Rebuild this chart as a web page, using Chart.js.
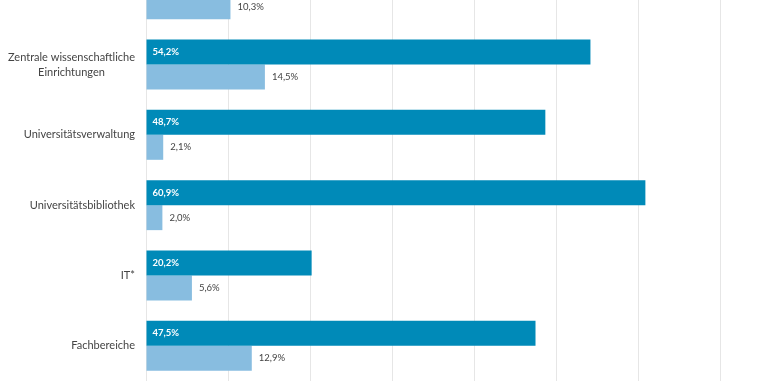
<!DOCTYPE html>
<html>
<head>
<meta charset="utf-8">
<script src="https://cdn.jsdelivr.net/npm/chart.js@4"></script>
<style>
html,body{margin:0;padding:0;background:#fff;overflow:hidden;}
#wrap{position:absolute;left:0;top:-41px;width:761px;height:422px;}
</style>
</head>
<body>
<div id="wrap"><canvas id="c"></canvas></div>
<script>
const categories = ["", ["Zentrale wissenschaftliche", "Einrichtungen"], "Universitätsverwaltung", "Universitätsbibliothek", "IT*", "Fachbereiche"];
const seriesDark = [null, 54.2, 48.7, 60.9, 20.2, 47.5];
const seriesLight = [10.3, 14.5, 2.1, 2.0, 5.6, 12.9];
const xTicks = [0, 10, 20, 30, 40, 50, 60, 70];

const FONT = "Lato, 'Open Sans', sans-serif";
const fmt = v => v.toFixed(1).replace('.', ',') + '%';

const labelPlugin = {
  id: 'labels',
  afterDatasetsDraw(chart) {
    const ctx = chart.ctx;
    const yScale = chart.scales.y;
    ctx.save();
    // category labels
    ctx.font = "11px " + FONT;
    ctx.fillStyle = "#444444";
    ctx.textBaseline = "middle";
    ctx.textAlign = "center";
    const right = chart.chartArea.left - 11;
    categories.forEach((lab, i) => {
      const lines = Array.isArray(lab) ? lab : [lab];
      const w = Math.max(...lines.map(l => ctx.measureText(l).width));
      const cx = right - w / 2;
      const cy = yScale.getPixelForValue(i);
      const lh = 15;
      lines.forEach((l, j) => {
        ctx.fillText(l, cx, cy + (j - (lines.length - 1) / 2) * lh);
      });
    });
    // value labels
    chart.data.datasets.forEach((ds, di) => {
      const meta = chart.getDatasetMeta(di);
      meta.data.forEach((bar, i) => {
        const v = ds.data[i];
        if (v === null || v === undefined) return;
        ctx.textAlign = "left";
        ctx.textBaseline = "middle";
        if (di === 0) {
          ctx.font = "bold 9.5px " + FONT;
          ctx.fillStyle = "#ffffff";
          ctx.fillText(fmt(v), bar.base + 6, bar.y);
        } else {
          ctx.font = "9.5px " + FONT;
          ctx.fillStyle = "#444444";
          ctx.fillText(fmt(v), bar.x + 7, bar.y);
        }
      });
    });
    ctx.restore();
  }
};

new Chart(document.getElementById('c'), {
  type: 'bar',
  data: {
    labels: categories,
    datasets: [
      { data: seriesDark, backgroundColor: '#008ab8', barPercentage: 1, categoryPercentage: 0.71 },
      { data: seriesLight, backgroundColor: '#88bde0', barPercentage: 1, categoryPercentage: 0.71 }
    ]
  },
  options: {
    indexAxis: 'y',
    responsive: true,
    maintainAspectRatio: false,
    animation: false,
    layout: { padding: { left: 146, right: 0, top: 0, bottom: 0 } },
    plugins: { legend: { display: false }, tooltip: { enabled: false } },
    scales: {
      x: {
        min: 0, max: 75,
        afterBuildTicks: axis => { axis.ticks = xTicks.map(v => ({ value: v })); },
        ticks: { display: false },
        grid: { color: '#e6e6e6', lineWidth: 1, drawTicks: false },
        border: { display: false }
      },
      y: {
        ticks: { display: false },
        grid: { display: false, drawTicks: false },
        border: { display: false }
      }
    }
  },
  plugins: [labelPlugin]
});
</script>
</body>
</html>
